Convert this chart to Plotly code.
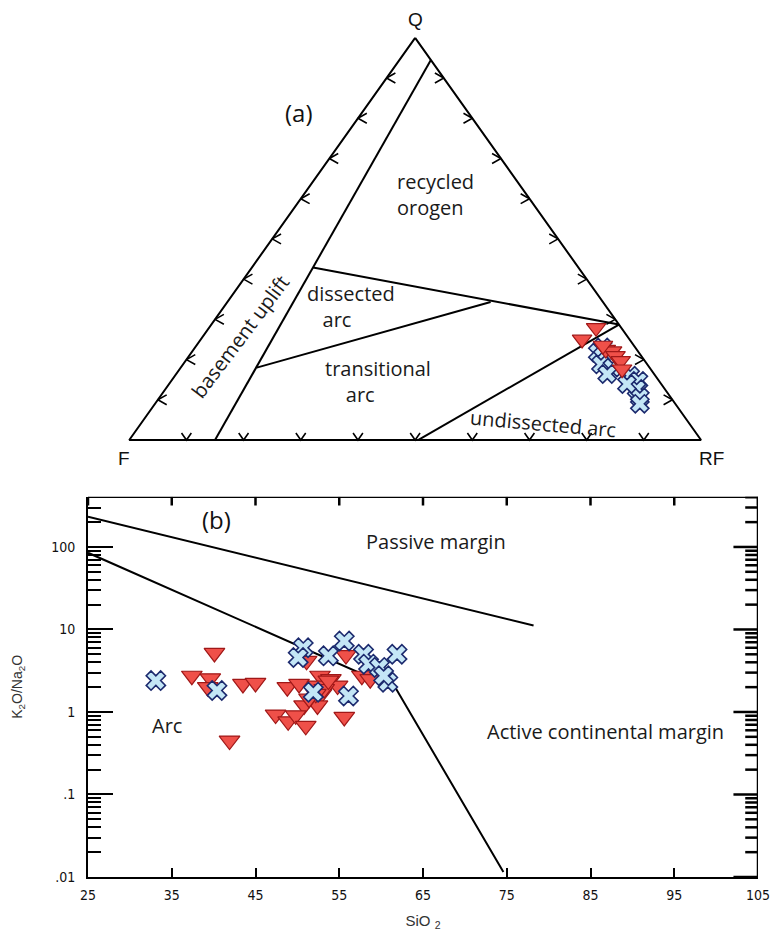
import numpy as np
import plotly.graph_objects as go

# ---------------- Panel (a): QFR ternary data (percent) ----------------
tri_a_Q = [27.9, 25.0, 22.5, 22.1, 20.9, 19.7, 17.6, 23.5]
tri_a_F = [4.4, 8.3, 5.4, 4.5, 4.5, 4.2, 5.0, 5.4]
tri_a_RF = [67.7, 66.7, 72.1, 73.4, 74.6, 76.1, 77.4, 71.1]

x_a_Q = [21.7, 18.8, 18.0, 16.4, 16.0, 14.7, 12.7, 10.6, 9.0, 13.9, 23.0]
x_a_F = [7.2, 8.1, 6.5, 8.2, 4.4, 3.6, 4.9, 5.4, 6.2, 6.0, 5.7]
x_a_RF = [71.1, 73.1, 75.5, 75.4, 79.6, 81.7, 82.4, 84.0, 84.8, 80.1, 71.3]

# triangle corners (Q, F, RF)
corner_Q = [100, 0, 0, 100]
corner_F = [0, 100, 0, 0]
corner_RF = [0, 0, 100, 0]

# field boundaries (Q, F, RF) endpoints
basement_Q = [0, 94.5];    basement_F = [85, 0];      basement_RF = [15, 5.5]
arcupper_Q = [42.9, 28.7]; arcupper_F = [46.4, 0];    arcupper_RF = [10.7, 71.3]
dissect_Q = [18.0, 34.3];  dissect_F = [68.7, 19.65]; dissect_RF = [13.3, 46.05]
undiss_Q = [0, 28.7];      undiss_F = [49.5, 0];      undiss_RF = [50.5, 71.3]

tern_ticks = [0.1, 0.2, 0.3, 0.4, 0.5, 0.6, 0.7, 0.8, 0.9]

# ---------------- Panel (b): K2O/Na2O vs SiO2 ----------------
tri_b_SiO2 = [40.1, 37.4, 39.6, 39.3, 43.5, 45.0, 48.8, 50.2, 51.1, 52.7, 54.0, 54.8,
              52.4, 52.9, 52.4, 50.8, 47.4, 48.9, 49.8, 51.0, 41.9, 55.6, 55.8, 57.7,
              58.7, 53.2, 53.7, 52.2, 51.4]
tri_b_ratio = [5.2, 2.75, 2.56, 2.0, 2.19, 2.25, 2.0, 2.19, 4.17, 2.75, 2.5, 2.09,
               2.09, 1.66, 1.2, 1.2, 0.93, 0.77, 0.91, 0.68, 0.45, 0.87, 4.9, 2.75,
               2.5, 1.9, 2.4, 1.66, 1.45]

x_b_SiO2 = [33.1, 40.4, 50.7, 50.1, 53.7, 55.6, 57.9, 58.5, 59.8, 61.9, 60.8, 56.1, 51.9, 60.3]
x_b_ratio = [2.4, 1.82, 6.0, 4.57, 4.79, 7.24, 5.0, 3.8, 3.47, 5.0, 2.29, 1.56, 1.74, 2.75]

passive_SiO2 = [25, 78.2]
passive_ratio = [232, 11.2]
arc_SiO2 = [25, 61.8, 74.6]
arc_ratio = [85, 1.9, 0.0115]

x_ticks = [25, 35, 45, 55, 65, 75, 85, 95, 105]
x_ticktext = ["25", "35", "45", "55", "65", "75", "85", "95", "105"]
y_alias = {"0.01": ".01", "0.1": ".1"}

RED_FILL = "#ef5049"
RED_EDGE = "#a01818"
BLUE_FILL = "#c4e6f6"
BLUE_EDGE = "#1c2a6e"

# ---------------- page geometry (figure fills the 778 x 935 window) ----------------
W, H = 778, 935
mt, mb, ml, mr = 10, 52, 88, 8
plot_h = H - mt - mb          # 873
plot_w = W - ml - mr          # 682
b_px = 883 - 500              # panel (b) height in px
b_top = b_px / plot_h
a_bot = (883 - 470) / plot_h
y_range = [-2, 2.61]
x_range = [25, 105]


def tern_xy(q, f, r):
    q = np.asarray(q, float); f = np.asarray(f, float); r = np.asarray(r, float)
    s = q + f + r
    return (r + q / 2) / s, q / s


fig = go.Figure()

# ---- panel (a) ----
line_a = dict(color="black", width=2)
for Q, F, R in [(corner_Q, corner_F, corner_RF), (basement_Q, basement_F, basement_RF),
                (arcupper_Q, arcupper_F, arcupper_RF), (dissect_Q, dissect_F, dissect_RF),
                (undiss_Q, undiss_F, undiss_RF)]:
    u, v = tern_xy(Q, F, R)
    fig.add_trace(go.Scatter(x=u, y=v, mode="lines", line=line_a, xaxis="x2", yaxis="y2",
                             showlegend=False, hoverinfo="skip"))

# chevron ticks along the sides (size in pixels converted to axis units)
PX_U, PX_V = 1 / 582, 1 / 405
du, dv = 9 * PX_U, 5 * PX_V
bu, bv = 5 * PX_U, 7 * PX_V
cx, cy = [], []
for t in tern_ticks:
    au, av = t / 2, t                      # left side, Q = t
    cx += [au + du, au, au + du, None]; cy += [av + dv, av, av - dv, None]
    au, av = 1 - t / 2, t                  # right side, Q = t
    cx += [au - du, au, au - du, None]; cy += [av + dv, av, av - dv, None]
    au, av = t, 0                          # bottom, RF = t
    cx += [au - bu, au, au + bu, None]; cy += [av + bv, av, av + bv, None]
fig.add_trace(go.Scatter(x=cx, y=cy, mode="lines", line=dict(color="black", width=1.6),
                         xaxis="x2", yaxis="y2", showlegend=False, hoverinfo="skip"))

u, v = tern_xy(x_a_Q, x_a_F, x_a_RF)
fig.add_trace(go.Scatter(x=u, y=v, mode="markers", xaxis="x2", yaxis="y2", showlegend=False,
                         marker=dict(symbol="x", size=16, color=BLUE_FILL,
                                     line=dict(color=BLUE_EDGE, width=1.6))))
u, v = tern_xy(tri_a_Q, tri_a_F, tri_a_RF)
fig.add_trace(go.Scatter(x=u, y=v, mode="markers", xaxis="x2", yaxis="y2", showlegend=False,
                         marker=dict(symbol="triangle-down", size=17, color=RED_FILL,
                                     line=dict(color=RED_EDGE, width=1.2))))

# ---- panel (b) ----
fig.add_trace(go.Scatter(x=passive_SiO2, y=passive_ratio, mode="lines",
                         line=dict(color="black", width=2), showlegend=False, hoverinfo="skip"))
fig.add_trace(go.Scatter(x=arc_SiO2, y=arc_ratio, mode="lines",
                         line=dict(color="black", width=2), showlegend=False, hoverinfo="skip"))

# top / right frame with mirrored ticks, drawn in the panel's own data units
y_top = 10 ** y_range[1]
y_bot = 10 ** y_range[0]
px_per_dec = b_px / (y_range[1] - y_range[0])
px_per_x = plot_w / (x_range[1] - x_range[0])
fx = [x_range[0], x_range[1], x_range[1], None]
fy = [y_top, y_top, y_bot, None]
for xv in x_ticks:
    fx += [xv, xv, None]
    fy += [y_top, 10 ** (y_range[1] - 9 / px_per_dec), None]
for e in range(-2, 3):
    for m in range(1, 10):
        val = m * 10.0 ** e
        if np.log10(val) > y_range[1]:
            continue
        ln = 25 if m == 1 else 13
        fx += [x_range[1], x_range[1] - ln / px_per_x, None]
        fy += [val, val, None]
fig.add_trace(go.Scatter(x=fx, y=fy, mode="lines", line=dict(color="black", width=2.5),
                         showlegend=False, hoverinfo="skip"))

fig.add_trace(go.Scatter(x=tri_b_SiO2, y=tri_b_ratio, mode="markers", showlegend=False,
                         marker=dict(symbol="triangle-down", size=18, color=RED_FILL,
                                     line=dict(color=RED_EDGE, width=1.2))))
fig.add_trace(go.Scatter(x=x_b_SiO2, y=x_b_ratio, mode="markers", showlegend=False,
                         marker=dict(symbol="x", size=17, color=BLUE_FILL,
                                     line=dict(color=BLUE_EDGE, width=1.6))))

LBL = dict(family="Open Sans, DejaVu Sans, sans-serif", size=20, color="#1a1a1a")
TICKF = dict(family="Liberation Sans Narrow, DejaVu Sans Condensed, Liberation Sans, Arial",
             size=14, color="#111")
CORNER = dict(family="Liberation Sans, Arial", size=19, color="#111")
PANEL = dict(family="Open Sans, DejaVu Sans", size=24, color="#111")
NB = "&nbsp;"


def a_ann(px, py, text, **kw):
    # annotation on panel (a) positioned in its (u, v) axis units
    d = dict(x=(px - 130) / 582, y=(443 - py) / 405, xref="x2", yref="y2",
             text=text, showarrow=False, font=kw.pop("font", LBL))
    d.update(kw)
    return d


annotations = [
    a_ann(421, 20, "Q", font=CORNER),
    a_ann(125, 462, "F", font=CORNER),
    a_ann(723, 462, "RF", font=CORNER),
    a_ann(303, 113, "(a)", font=PANEL),
    a_ann(401, 196, "recycled<br>orogen", xanchor="left", align="left"),
    a_ann(309, 309, "dissected<br>" + NB * 3 + "arc", xanchor="left", align="left"),
    a_ann(327, 384, "transitional<br>" + NB * 4 + "arc", xanchor="left", align="left"),
    a_ann(551, 426, "undissected arc", textangle=5),
    a_ann(243, 339, "basement uplift", textangle=-53),
    # panel b
    dict(x=40.3, y=2.33, xref="x", yref="y", text="(b)", showarrow=False, font=PANEL),
    dict(x=66.6, y=2.07, xref="x", yref="y", text="Passive margin", showarrow=False, font=LBL),
    dict(x=34.4, y=-0.16, xref="x", yref="y", text="Arc", showarrow=False, font=LBL),
    dict(x=86.8, y=-0.24, xref="x", yref="y", text="Active continental margin",
         showarrow=False, font=LBL),
]

frame = dict(showline=True, linewidth=2, linecolor="black", showgrid=False, zeroline=False)

fig.update_layout(
    width=W, height=H,
    margin=dict(l=ml, r=mr, t=mt, b=mb),
    paper_bgcolor="white", plot_bgcolor="white",
    showlegend=False,
    annotations=annotations,
    xaxis=dict(domain=[0, 1], range=x_range, tickmode="array", tickvals=x_ticks,
               ticktext=x_ticktext, ticklabeloverflow="allow",
               ticks="inside", ticklen=9, tickwidth=2, tickcolor="black",
               tickfont=TICKF, ticklabelstandoff=4,
               title=dict(text="SiO <sub>2</sub>", standoff=14,
                          font=dict(family="Liberation Sans, Arial", size=15, color="#333")),
               **frame),
    yaxis=dict(domain=[0, b_top], type="log", range=y_range, dtick=1,
               labelalias=y_alias,
               ticks="inside", ticklen=25, tickwidth=2, tickcolor="black",
               minor=dict(dtick="D1", ticks="inside", ticklen=13, tickwidth=2,
                          tickcolor="black", showgrid=False),
               tickfont=TICKF, ticklabelstandoff=8,
               title=dict(text="K<sub>2</sub>O/Na<sub>2</sub>O", standoff=25,
                          font=dict(family="Liberation Sans, Arial", size=14, color="#333")),
               **frame),
    xaxis2=dict(domain=[0, 1], range=[-42 / 582, 1 + 58 / 582], visible=False,
                anchor="y2"),
    yaxis2=dict(domain=[a_bot, 1], range=[-27 / 405, (443 - 10) / 405], visible=False,
                anchor="x2"),
)

# let the figure sit at the window's top-left corner, without the default 8 px page margin
fig.write_html("out.html", config={"displayModeBar": False},
               post_script="document.body.style.margin='0px';"
                           "document.body.style.overflow='hidden';")
